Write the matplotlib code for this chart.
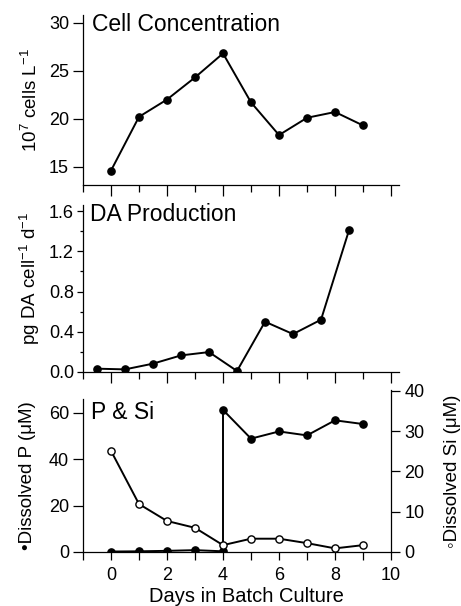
import matplotlib
matplotlib.use("Agg")
import matplotlib.pyplot as plt
from matplotlib.ticker import MultipleLocator

plt.rcParams['font.family'] = ['Liberation Sans', 'DejaVu Sans']

# values
days = [0, 1, 2, 3, 4, 5, 6, 7, 8, 9]
cells = [14.6, 20.2, 22.0, 24.3, 26.8, 21.7, 18.3, 20.1, 20.7, 19.3]

da_days = [-0.5, 0.5, 1.5, 2.5, 3.5, 4.5, 5.5, 6.5, 7.5, 8.5]
da_prod = [0.033, 0.026, 0.083, 0.165, 0.198, 0.01, 0.50, 0.377, 0.52, 1.41]

p_days = [0, 1, 2, 3, 4, 4, 5, 6, 7, 8, 9]
p_conc = [0.2, 0.3, 0.5, 0.8, 0.3, 61.3, 48.9, 52.0, 50.3, 56.8, 55.2]

si_days = [0, 1, 2, 3, 4, 5, 6, 7, 8, 9]
si_conc = [25.1, 11.9, 7.7, 6.0, 1.7, 3.3, 3.3, 2.2, 0.9, 1.7]

W, H = 461, 606
fig = plt.figure(figsize=(W / 100, H / 100), dpi=100)

def box(left, top, right, bottom):
    return [left / W, 1 - bottom / H, (right - left) / W, (bottom - top) / H]

ax1 = fig.add_axes(box(83, 15, 398.6, 185))
ax2 = fig.add_axes(box(83, 205, 398.6, 372))
ax3 = fig.add_axes(box(83, 399, 391, 552))
ax4 = fig.add_axes(box(83, 390, 391, 552))

lw = 1.4
line_kw = dict(color='black', lw=lw, marker='o', ms=5.2, mfc='black', mec='black')

ax1.plot(days, cells, **line_kw)
ax2.plot(da_days, da_prod, **line_kw)
ax3.plot(p_days, p_conc, zorder=2, **line_kw)
ax4.plot(si_days, si_conc, color='black', lw=lw, marker='o', ms=5.2,
         mfc='white', mec='black', mew=1.0, zorder=3)

for ax in (ax1, ax2):
    ax.set_xlim(-1, 10.27)
for ax in (ax3, ax4):
    ax.set_xlim(-1, 10)

ax1.set_ylim(13.1, 30.8)
ax2.set_ylim(0, 1.66)
ax3.set_ylim(0, 66)
ax4.set_ylim(0, 40.2)

for ax in (ax1, ax2, ax3):
    ax.spines['top'].set_visible(False)
    ax.spines['right'].set_visible(False)
    for s in ('left', 'bottom'):
        ax.spines[s].set_linewidth(0.9)
    ax.xaxis.set_major_locator(MultipleLocator(2))
    ax.xaxis.set_minor_locator(MultipleLocator(1))
    ax.tick_params(labelsize=13, width=0.9, color='black')
    ax.tick_params(which='minor', width=0.9)

ax1.yaxis.set_major_locator(MultipleLocator(5))
ax1.tick_params(axis='y', length=7, pad=3)
ax1.tick_params(axis='x', which='major', length=8, labelbottom=False)
ax1.tick_params(axis='x', which='minor', length=5)

ax2.yaxis.set_major_locator(MultipleLocator(0.4))
ax2.yaxis.set_minor_locator(MultipleLocator(0.2))
ax2.tick_params(axis='y', which='major', length=4.5, pad=2)
ax2.tick_params(axis='y', which='minor', length=2.5)
ax2.tick_params(axis='x', which='major', length=8, labelbottom=False)
ax2.tick_params(axis='x', which='minor', length=5)

ax3.yaxis.set_major_locator(MultipleLocator(20))
ax3.tick_params(axis='y', length=7, pad=3)
ax3.tick_params(axis='x', which='both', length=6, pad=5)

# right-hand Si axis
ax4.patch.set_visible(False)
for s in ('top', 'left', 'bottom'):
    ax4.spines[s].set_visible(False)
ax4.spines['right'].set_linewidth(0.9)
ax4.xaxis.set_visible(False)
ax4.yaxis.tick_right()
ax4.yaxis.set_label_position('right')
ax4.yaxis.set_major_locator(MultipleLocator(10))
ax4.tick_params(axis='y', length=6.5, width=0.9, labelsize=13, pad=3)

# panel titles
ax1.text(0.027, 1.01, 'Cell Concentration', transform=ax1.transAxes,
         ha='left', va='top', fontsize=16.5)
ax2.text(0.022, 1.01, 'DA Production', transform=ax2.transAxes,
         ha='left', va='top', fontsize=16.5)
ax3.text(0.025, 0.99, 'P & Si', transform=ax3.transAxes,
         ha='left', va='top', fontsize=16.5)

# axis labels
ax1.set_ylabel(r'10$\mathregular{^{7}}$ cells L$\mathregular{^{-1}}$', fontsize=13.5)
ax2.set_ylabel(r'pg DA cell$\mathregular{^{-1}}$ d$\mathregular{^{-1}}$', fontsize=13.5)
ax3.set_ylabel('\u2022Dissolved P (\u03bcM)', fontsize=13.5)
ax4.set_ylabel('\u25e6Dissolved Si (\u03bcM)', fontsize=13.5)
ax3.set_xlabel('Days in Batch Culture', fontsize=14.5)

for ax, x, y in ((ax1, -0.165, 0.5), (ax2, -0.168, 0.56),
                 (ax3, -0.18, 0.5), (ax4, 1.2, 0.5)):
    ax.yaxis.label.set_verticalalignment('center')
    ax.yaxis.set_label_coords(x, y)
ax3.xaxis.label.set_verticalalignment('center')
ax3.xaxis.set_label_coords(0.532, -0.29)

fig.savefig('out.png', dpi=100)
